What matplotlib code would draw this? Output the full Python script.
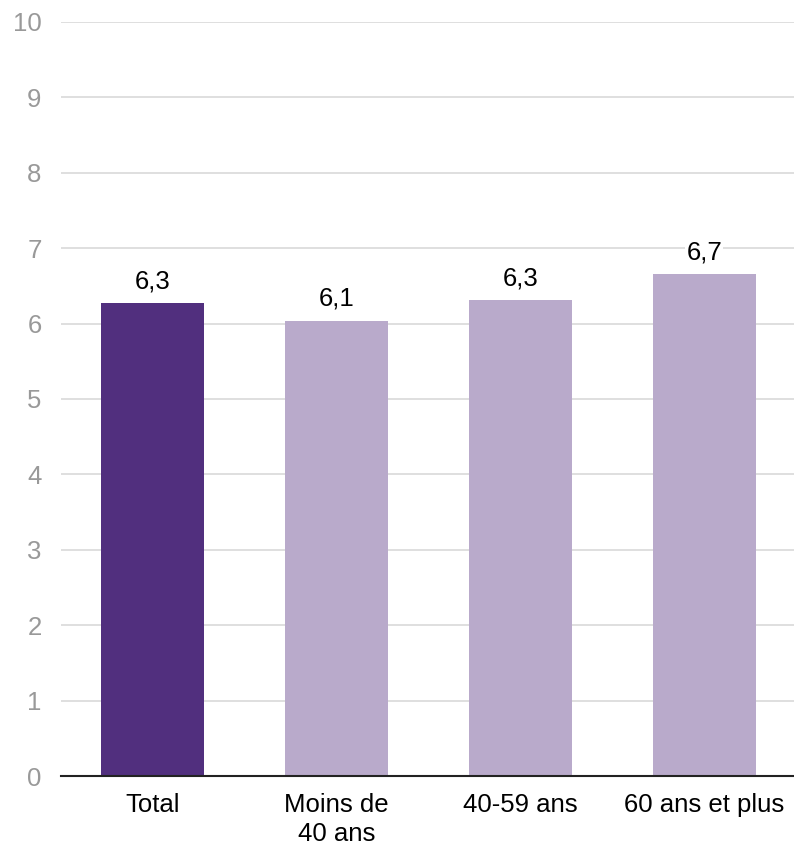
import matplotlib
matplotlib.use("Agg")
import matplotlib.pyplot as plt

categories = ["Total", "Moins de\n40 ans", "40-59 ans", "60 ans et plus"]
values = [6.27, 6.04, 6.31, 6.66]
labels = ["6,3", "6,1", "6,3", "6,7"]
colors = ["#512f7e", "#b9aacb", "#b9aacb", "#b9aacb"]
yticks = list(range(0, 11))

plt.rcParams["font.family"] = ["Liberation Sans", "DejaVu Sans"]

fig = plt.figure(figsize=(7.94, 8.46), dpi=100)
ax = fig.add_axes([61 / 794, 70 / 846, 735 / 794, 754 / 846])

x = range(len(categories))
bars = ax.bar(x, values, width=0.56, color=colors, zorder=2)
for b, lab in zip(bars, labels):
    ax.annotate(lab, (b.get_x() + b.get_width() / 2, b.get_height()),
                xytext=(0, 7), textcoords="offset points", ha="center", va="bottom",
                fontsize=18.5, color="#000000", zorder=4,
                bbox=dict(boxstyle="square,pad=0.05", fc="white", ec="none"))

ax.set_xlim(-0.5, len(categories) - 0.5)
ax.set_ylim(0, 10)
ax.set_yticks(yticks)
ax.set_yticklabels([str(t) for t in yticks])
ax.set_xticks(list(x))
ax.set_xticklabels(categories, fontsize=18.5, color="#000000", linespacing=1.3)
ax.tick_params(axis="y", length=0, pad=14, labelsize=18.5, labelcolor="#999999")
ax.tick_params(axis="x", length=0, pad=12)

ax.grid(axis="y", color="#d9d9d9", linewidth=1.2, zorder=0)
ax.set_axisbelow(True)
for s in ("top", "right", "left"):
    ax.spines[s].set_visible(False)
ax.spines["bottom"].set_color("#222222")
ax.spines["bottom"].set_linewidth(1.5)
ax.spines["bottom"].set_zorder(3)

fig.savefig("out.png", dpi=100)
